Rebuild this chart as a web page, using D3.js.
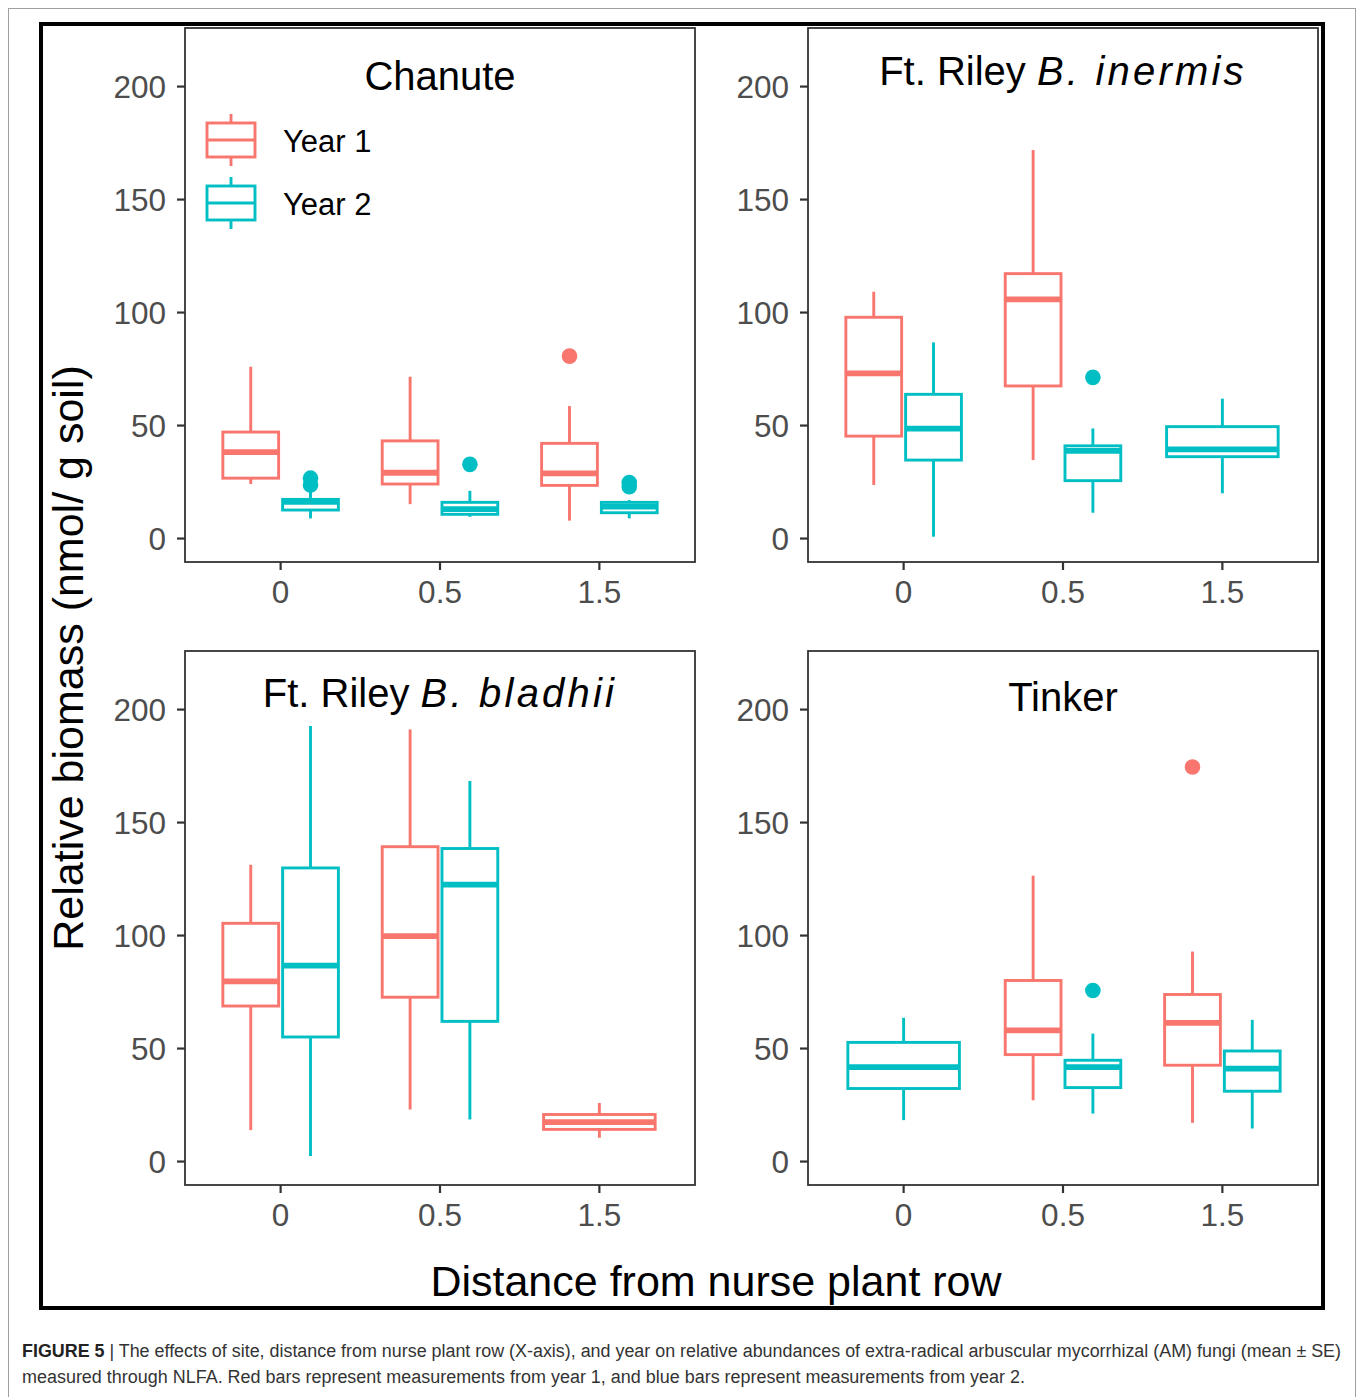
<!DOCTYPE html>
<html><head><meta charset="utf-8">
<script src="https://cdn.jsdelivr.net/npm/d3@7"></script>
<style>body{margin:0;background:#fff}svg{display:block}</style>
</head><body>
<svg id="c" width="1358" height="1397"></svg>
<script>
// ---------- data ----------
const distances = ["0", "0.5", "1.5"];
const years = ["Year 1", "Year 2"];
const yTicks = [0, 50, 100, 150, 200];
const colors = ["#F8766D", "#00BFC4"];

// box stats: [distance, year, lowerWhisker, q1, median, q3, upperWhisker]
const chanuteBoxes = [
  ["0",   "Year 1", 23.9, 26.5, 38.0, 46.9, 75.8],
  ["0",   "Year 2",  8.7, 12.4, 16.0, 17.1, 20.5],
  ["0.5", "Year 1", 15.0, 23.9, 28.9, 43.0, 71.4],
  ["0.5", "Year 2",  9.4, 10.5, 12.8, 15.8, 20.9],
  ["1.5", "Year 1",  7.7, 23.3, 28.6, 41.9, 58.4],
  ["1.5", "Year 2",  8.7, 11.2, 13.9, 15.8, 16.8]
];
const chanuteOutliers = [["0","Year 2",26.5],["0","Year 2",23.5],["0.5","Year 2",32.6],["1.5","Year 1",80.5],["1.5","Year 2",24.6],["1.5","Year 2",22.7]];

const inermisBoxes = [
  ["0",   "Year 1", 23.5, 45.1, 72.9, 97.7, 109.0],
  ["0",   "Year 2",  0.6, 34.5, 48.4, 63.6, 86.6],
  ["0.5", "Year 1", 34.5, 67.3, 105.6, 117.0, 171.7],
  ["0.5", "Year 2", 11.2, 25.4, 38.6, 40.8, 48.5],
  ["1.5", "Year 2", 19.8, 36.0, 39.2, 49.3, 61.7]
];
const inermisOutliers = [["0.5","Year 2",71.1]];

const bladhiiBoxes = [
  ["0",   "Year 1", 13.7, 68.6, 79.5, 105.2, 131.1],
  ["0",   "Year 2",  2.2, 54.9, 86.5, 129.7, 192.5],
  ["0.5", "Year 1", 22.8, 72.5, 99.5, 139.1, 191.0],
  ["0.5", "Year 2", 18.4, 61.8, 122.3, 138.3, 168.2],
  ["1.5", "Year 1", 10.3, 14.0, 17.2, 20.6, 25.7]
];
const bladhiiOutliers = [];

const tinkerBoxes = [
  ["0",   "Year 2", 18.1, 32.1, 41.6, 52.5, 63.4],
  ["0.5", "Year 1", 26.9, 47.1, 57.8, 79.9, 126.3],
  ["0.5", "Year 2", 21.0, 32.5, 41.6, 44.6, 56.4],
  ["1.5", "Year 1", 16.9, 42.4, 61.1, 73.7, 92.7],
  ["1.5", "Year 2", 14.4, 30.9, 40.9, 48.7, 62.5]
];
const tinkerOutliers = [["0.5","Year 2",75.5],["1.5","Year 1",174.4]];

const panels = [
  {title: ["Chanute", ""], boxes: chanuteBoxes, outliers: chanuteOutliers, col: 0, row: 0, legend: true},
  {title: ["Ft. Riley ", "B. inermis"], boxes: inermisBoxes, outliers: inermisOutliers, col: 1, row: 0},
  {title: ["Ft. Riley ", "B. bladhii"], boxes: bladhiiBoxes, outliers: bladhiiOutliers, col: 0, row: 1},
  {title: ["Tinker", ""], boxes: tinkerBoxes, outliers: tinkerOutliers, col: 1, row: 1}
];

// ---------- drawing ----------
const svg = d3.select("#c");
const FONT = "'Liberation Sans', Arial, Helvetica, sans-serif";
const SW = 2.9;

// outer frames
svg.append("rect").attr("x", 8.5).attr("y", 8.5).attr("width", 1347).attr("height", 1400)
  .attr("fill", "none").attr("stroke", "#a0a0a0").attr("stroke-width", 1);
svg.append("rect").attr("x", 41).attr("y", 24).attr("width", 1282).attr("height", 1284)
  .attr("fill", "none").attr("stroke", "#000").attr("stroke-width", 4);

const colX = [185, 808], rowY = [28, 651];
const PW = 510, PH = 534;

panels.forEach(p => {
  const x0 = colX[p.col], y0 = rowY[p.row];
  const g = svg.append("g").attr("transform", `translate(${x0},${y0})`);
  const x = d3.scaleBand().domain(distances).range([0, PW]).paddingInner(0).paddingOuter(0.1);
  const y = d3.scaleLinear().domain([-10.6, 225.7]).range([PH, 0]);
  const step = x.bandwidth();
  const dodge = d3.scaleBand().domain(years).range([-0.375 * step, 0.375 * step]);
  const col = d3.scaleOrdinal().domain(years).range(colors);

  const nPer = d3.rollup(p.boxes, v => v.length, d => d[0]);
  const cx = (dist, yr) => {
    const c = x(dist) + step / 2;
    return nPer.get(dist) === 1 ? c : c + dodge(yr) + dodge.bandwidth() / 2;
  };
  const bw = dist => nPer.get(dist) === 1 ? 0.7 * step : 0.35 * step;

  g.append("rect").attr("width", PW).attr("height", PH).attr("fill", "#fff");

  // axes
  const yAxis = d3.axisLeft(y).tickValues(yTicks).tickSize(8).tickPadding(11);
  const ya = g.append("g").call(yAxis);
  ya.select(".domain").remove();
  ya.selectAll(".tick line").attr("stroke", "#333").attr("stroke-width", 2.2);
  ya.selectAll(".tick text").attr("font-family", FONT).attr("font-size", 31.5).attr("fill", "#4D4D4D").attr("dy", "0.35em");

  const xAxis = d3.axisBottom(x).tickSize(8).tickPadding(9);
  const xa = g.append("g").attr("transform", `translate(0,${PH})`).call(xAxis);
  xa.select(".domain").remove();
  xa.selectAll(".tick line").attr("stroke", "#333").attr("stroke-width", 2.2);
  xa.selectAll(".tick text").attr("font-family", FONT).attr("font-size", 31.5).attr("fill", "#4D4D4D").attr("dy", "0.75em");

  // boxes
  const bg = g.selectAll("g.box").data(p.boxes).join("g").attr("class", "box");
  bg.append("line")
    .attr("x1", d => cx(d[0], d[1])).attr("x2", d => cx(d[0], d[1]))
    .attr("y1", d => y(d[5])).attr("y2", d => y(d[6]))
    .attr("stroke", d => col(d[1])).attr("stroke-width", SW);
  bg.append("line")
    .attr("x1", d => cx(d[0], d[1])).attr("x2", d => cx(d[0], d[1]))
    .attr("y1", d => y(d[3])).attr("y2", d => y(d[2]))
    .attr("stroke", d => col(d[1])).attr("stroke-width", SW);
  bg.append("rect")
    .attr("x", d => cx(d[0], d[1]) - bw(d[0]) / 2).attr("width", d => bw(d[0]))
    .attr("y", d => y(d[5])).attr("height", d => y(d[3]) - y(d[5]))
    .attr("fill", "#fff").attr("stroke", d => col(d[1])).attr("stroke-width", SW);
  bg.append("line")
    .attr("x1", d => cx(d[0], d[1]) - bw(d[0]) / 2).attr("x2", d => cx(d[0], d[1]) + bw(d[0]) / 2)
    .attr("y1", d => y(d[4])).attr("y2", d => y(d[4]))
    .attr("stroke", d => col(d[1])).attr("stroke-width", 5.8);

  g.selectAll("circle.out").data(p.outliers).join("circle").attr("class", "out")
    .attr("cx", d => cx(d[0], d[1])).attr("cy", d => y(d[2])).attr("r", 7.8)
    .attr("fill", d => col(d[1]));

  // frame
  g.append("rect").attr("width", PW).attr("height", PH).attr("fill", "none")
    .attr("stroke", "#333").attr("stroke-width", 1.8);

  // title
  const t = g.append("text").attr("x", PW / 2).attr("y", p.row === 0 ? (p.col === 0 ? 62 : 57) : (p.col === 0 ? 56 : 60))
    .attr("text-anchor", "middle").attr("font-family", FONT).attr("font-size", 40).attr("fill", "#000");
  t.append("tspan").text(p.title[0]);
  if (p.title[1]) t.append("tspan").attr("font-style", "italic").attr("letter-spacing", 3.2).text(p.title[1]);

  // legend
  if (p.legend) {
    const lg = g.append("g").attr("transform", "translate(22,0)");
    const items = [{yr: "Year 1", top: 95}, {yr: "Year 2", top: 158}];
    items.forEach(it => {
      const c = col(it.yr), cxl = 24;
      lg.append("line").attr("x1", cxl).attr("x2", cxl).attr("y1", it.top - 9).attr("y2", it.top + 43)
        .attr("stroke", c).attr("stroke-width", SW);
      lg.append("rect").attr("x", 0).attr("y", it.top).attr("width", 48).attr("height", 34)
        .attr("fill", "#fff").attr("stroke", c).attr("stroke-width", SW);
      lg.append("line").attr("x1", 0).attr("x2", 48).attr("y1", it.top + 17).attr("y2", it.top + 17)
        .attr("stroke", c).attr("stroke-width", SW);
      lg.append("text").attr("x", 76).attr("y", it.top + 29).attr("font-family", FONT)
        .attr("font-size", 31).attr("fill", "#000").text(it.yr);
    });
  }
});

// axis titles
svg.append("text").attr("x", 716).attr("y", 1296).attr("text-anchor", "middle")
  .attr("font-family", FONT).attr("font-size", 43).attr("fill", "#000").text("Distance from nurse plant row");
svg.append("text").attr("transform", "translate(83,658) rotate(-90)").attr("text-anchor", "middle")
  .attr("font-family", FONT).attr("font-size", 43).attr("fill", "#000").text("Relative biomass (nmol/ g soil)");

// caption
const CF = "'Liberation Sans Narrow', 'Arial Narrow', 'Liberation Sans', Arial, sans-serif";
const c1 = svg.append("text").attr("x", 22).attr("y", 1357).attr("font-family", CF).attr("font-size", 18)
  .attr("fill", "#333").attr("textLength", 1319).attr("lengthAdjust", "spacingAndGlyphs");
c1.append("tspan").attr("font-weight", "bold").attr("fill", "#222").text("FIGURE 5");
c1.append("tspan").text(" | The effects of site, distance from nurse plant row (X-axis), and year on relative abundances of extra-radical arbuscular mycorrhizal (AM) fungi (mean ± SE)");
svg.append("text").attr("x", 22).attr("y", 1383).attr("font-family", CF).attr("font-size", 18)
  .attr("fill", "#333").attr("textLength", 1003).attr("lengthAdjust", "spacingAndGlyphs")
  .text("measured through NLFA. Red bars represent measurements from year 1, and blue bars represent measurements from year 2.");
</script>
</body></html>
